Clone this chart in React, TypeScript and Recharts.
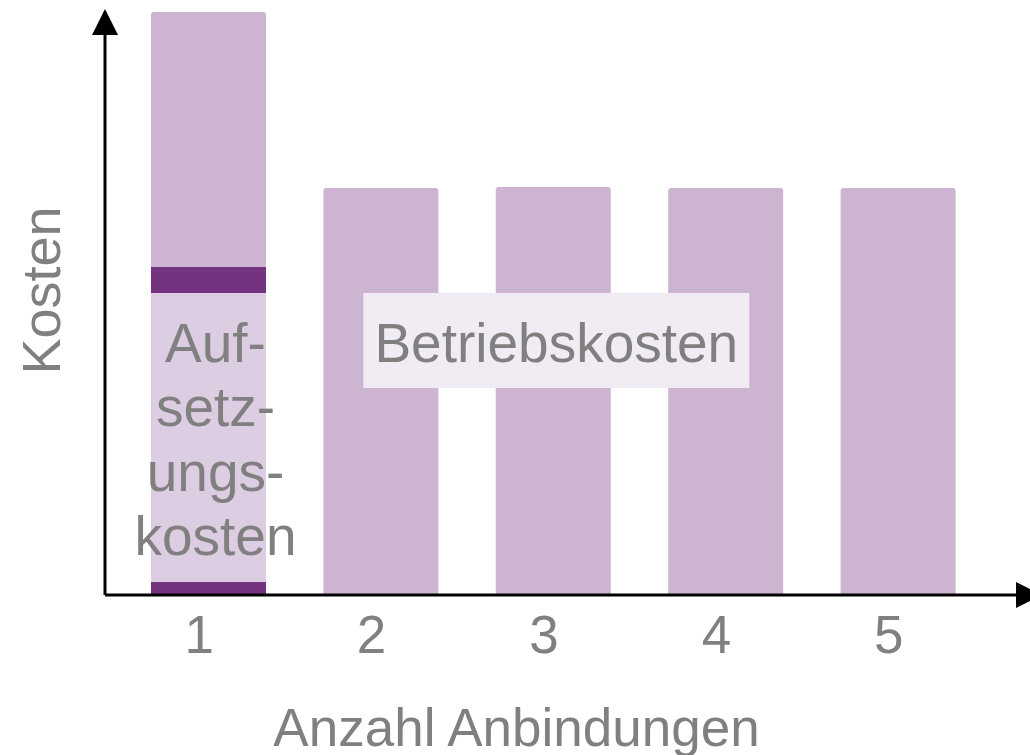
import { BarChart, Bar, XAxis, YAxis, LabelList, Label } from "recharts";

// Kosten pro Anzahl Anbindungen — gestapelte Balken (Einheiten frei gewählt)
const anzahl = ["1", "2", "3", "4", "5"];
const randUnten = [1.3, 0, 0, 0, 0];
const aufsetzung = [28.9, 0, 0, 0, 0];
const randOben = [2.6, 0, 0, 0, 0];
const betriebUnten = [0, 30.2, 30.2, 30.2, 30.2];
const betriebOben = [25.5, 10.5, 10.6, 10.5, 10.5];

// Beschriftungen: nur am jeweiligen Balken gesetzt
const setupLabel = ["Auf-|setz-|ungs-|kosten", "", "", "", ""];
const betriebLabel = ["", "", "Betriebskosten", "", ""];
const xTitle = "Anzahl Anbindungen";
const yTitle = "Kosten";

const FONT = "'Liberation Sans', Arial, sans-serif";
const GREY = "#808080";
const MID = "#CDB4D1";
const DARK = "#733381";
const LIGHT = "#DDCDE2";
const BOX = "#F1EBF4";

const data = anzahl.map((a, i) => ({
  anzahl: a,
  randUnten: randUnten[i],
  aufsetzung: aufsetzung[i],
  randOben: randOben[i],
  betriebUnten: betriebUnten[i],
  betriebOben: betriebOben[i],
  setupLabel: setupLabel[i],
  betriebLabel: betriebLabel[i],
}));

const SetupLabel = (props: any) => {
  const { x, y, width, value } = props;
  if (!value) return null;
  const cx = x + width / 2 + 7;
  return (
    <g>
      {String(value).split("|").map((line, i) => (
        <text
          key={line}
          x={cx}
          y={y + 69 + i * 64.3}
          textAnchor="middle"
          fill={GREY}
          fontSize={55}
          fontFamily={FONT}
        >
          {line}
        </text>
      ))}
    </g>
  );
};

const BetriebLabel = (props: any) => {
  const { x, y, width, value } = props;
  if (!value) return null;
  const cx = x + width / 2 + 3;
  return (
    <g>
      <rect x={cx - 193} y={y} width={386} height={95} fill={BOX} />
      <text x={cx} y={y + 69} textAnchor="middle" fill={GREY} fontSize={55} fontFamily={FONT}>
        {value}
      </text>
    </g>
  );
};

const XTick = (props: any) => {
  const { x, y, payload } = props;
  return (
    <text x={x - 9} y={y} dy={58} textAnchor="middle" fill={GREY} fontSize={53} fontFamily={FONT}>
      {payload.value}
    </text>
  );
};

const XTitle = (props: any) => {
  const { x, y, width } = props.viewBox;
  return (
    <text x={x + width / 2 - 46} y={y + 151} textAnchor="middle" fill={GREY} fontSize={53} fontFamily={FONT}>
      {xTitle}
    </text>
  );
};

const YTitle = (props: any) => {
  const { y, height } = props.viewBox;
  const cx = 60;
  const cy = y + height / 2 - 13;
  return (
    <text
      x={cx}
      y={cy}
      transform={`rotate(-90, ${cx}, ${cy})`}
      textAnchor="middle"
      fill={GREY}
      fontSize={54}
      fontFamily={FONT}
    >
      {yTitle}
    </text>
  );
};

export default function App() {
  return (
    <div style={{ position: "absolute", left: 0, top: 0, width: 1030, height: 755, background: "#fff", overflow: "hidden" }}>
      <svg width={0} height={0} style={{ position: "absolute" }}>
        <defs>
          <marker id="pfeil" viewBox="0 0 26 26" refX={4} refY={13} markerWidth={26} markerHeight={26}
            markerUnits="userSpaceOnUse" orient="auto">
            <path d="M0,0 L26,13 L0,26 Z" fill="#000" />
          </marker>
          <marker id="pfeilY" viewBox="0 0 26 26" refX={23} refY={13} markerWidth={26} markerHeight={26}
            markerUnits="userSpaceOnUse" orient="auto-start-reverse">
            <path d="M0,0 L26,13 L0,26 Z" fill="#000" />
          </marker>
        </defs>
      </svg>
      <BarChart
        width={1030}
        height={755}
        data={data}
        margin={{ top: 12, right: 10, left: 0, bottom: 0 }}
        barSize={115}
        style={{ overflow: "visible" }}
      >
        <XAxis
          dataKey="anzahl"
          type="category"
          height={160}
          padding={{ left: 17, right: 36 }}
          axisLine={{ stroke: "#000", strokeWidth: 3, markerEnd: "url(#pfeil)" }}
          tickLine={false}
          tickSize={0}
          tickMargin={0}
          tick={<XTick />}
          interval={0}
        >
          <Label content={<XTitle />} />
        </XAxis>
        <YAxis
          type="number"
          domain={[0, 58.3]}
          width={105}
          tick={false}
          tickLine={false}
          axisLine={{ stroke: "#000", strokeWidth: 3, markerStart: "url(#pfeilY)" }}
        >
          <Label content={<YTitle />} />
        </YAxis>
        <Bar dataKey="randUnten" stackId="k" fill={DARK} isAnimationActive={false} />
        <Bar dataKey="aufsetzung" stackId="k" fill={LIGHT} isAnimationActive={false}>
          <LabelList dataKey="setupLabel" content={<SetupLabel />} />
        </Bar>
        <Bar dataKey="randOben" stackId="k" fill={DARK} isAnimationActive={false} />
        <Bar dataKey="betriebUnten" stackId="k" fill={MID} isAnimationActive={false}>
          <LabelList dataKey="betriebLabel" content={<BetriebLabel />} />
        </Bar>
        <Bar dataKey="betriebOben" stackId="k" fill={MID} radius={[3, 3, 0, 0]} isAnimationActive={false} />
      </BarChart>
    </div>
  );
}
